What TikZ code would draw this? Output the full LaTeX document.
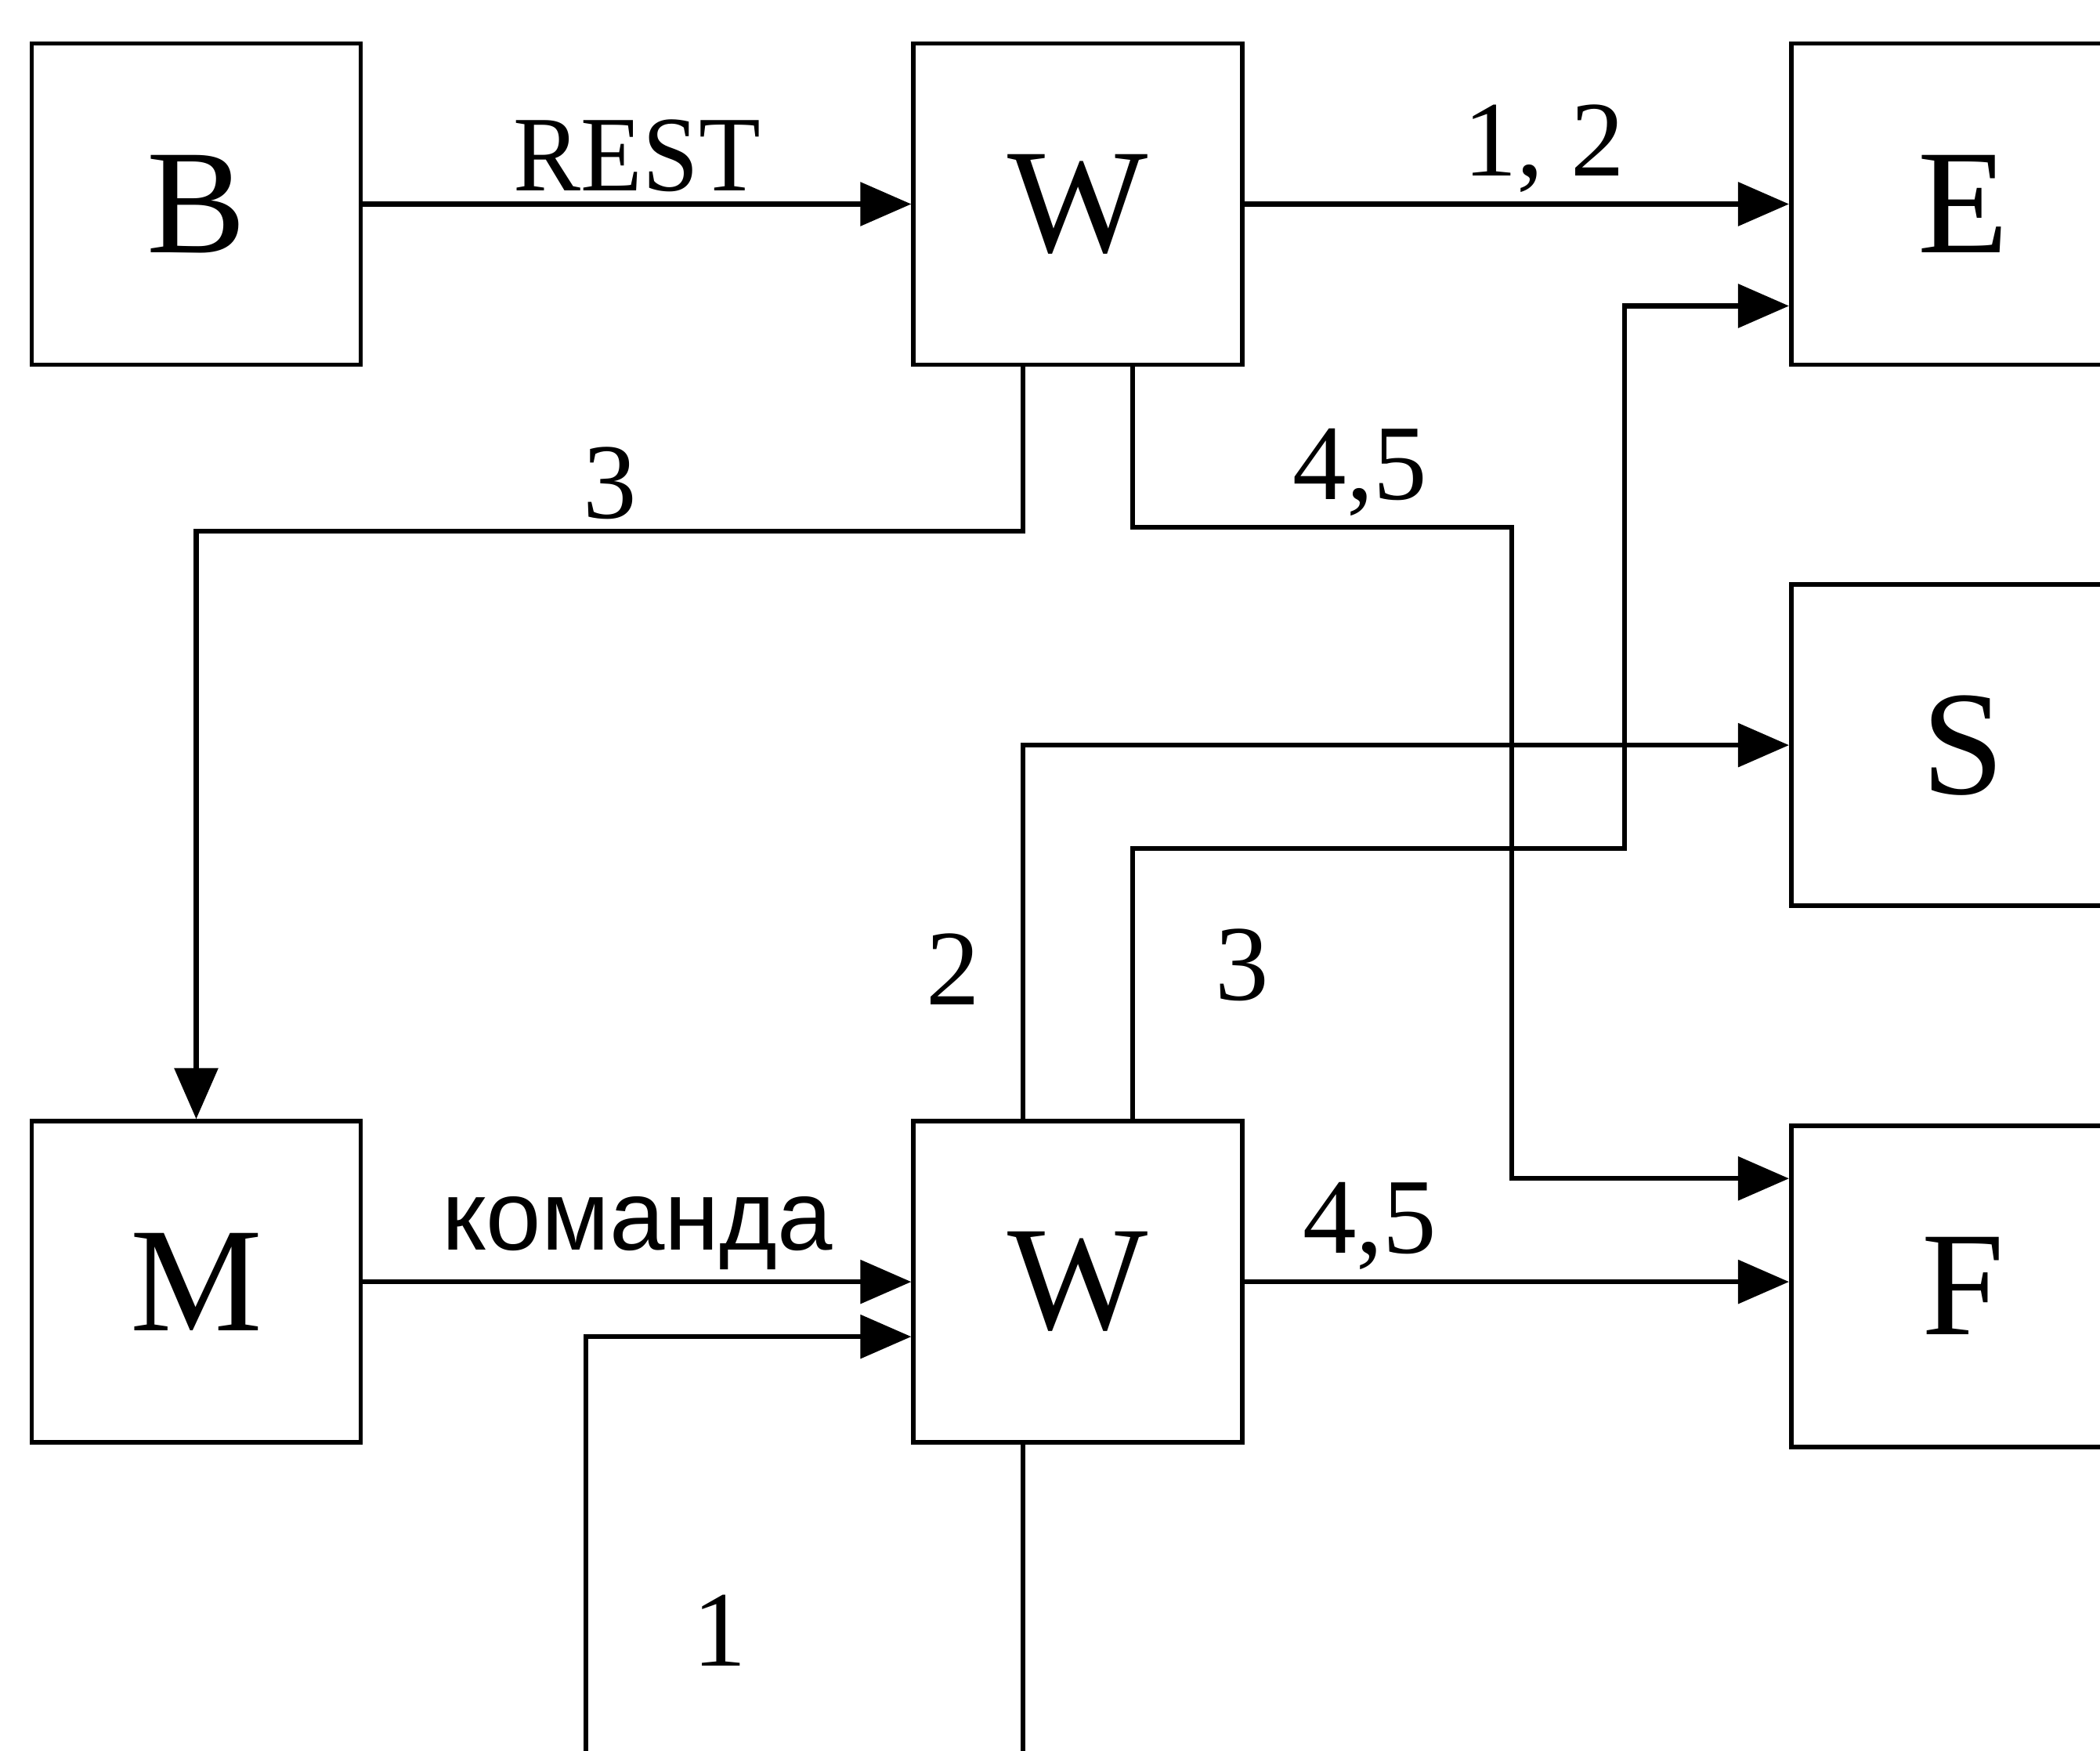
\documentclass[tikz,border=0pt]{standalone}
\usepackage{fontspec}
\setmainfont{Liberation Serif}
\newfontfamily\cyrsans{Liberation Sans}
\usetikzlibrary{positioning, arrows.meta}

\begin{document}
\begin{tikzpicture}[
        node distance=7cm,
        block/.style={rectangle, draw=black, line width=1.6pt, minimum width=4.2cm, minimum height=4.1cm, font=\fontsize{54}{60}\selectfont},
        wide/.style={block, minimum width=4.4cm},
        arrow/.style={-{Triangle[length=0.65cm, width=0.55cm]}, line width=1.8pt},
        lbl/.style={font=\fontsize{39}{44}\selectfont, inner sep=0.12cm}
    ]
        \clip (0,0) rectangle (26.81,-22.35);

        % Blocks
        \node[block] (B) at (2.505,-2.605) {B};
        \node[block, right=7cm of B] (W1) {W};
        \node[wide, right=6.95cm of W1] (E) {E};
        \node[wide, below=2.75cm of E] (S) {S};
        \node[wide, below=2.75cm of S] (F) {F};
        \node[block, below=9.6cm of B] (M) {M};
        \node[block, right=7cm of M] (W2) {W};

        % Connections
        \draw[arrow] (B) -- node[lbl, above, xscale=0.94] (lrest) {REST} (W1);
        \draw[arrow] (W1.east) -- node[lbl, above, pos=0.55] (l12) {1, 2} (W1.east -| E.west);
        \draw[arrow] ([xshift=-0.7cm]W1.south) -- ++(0,-2.1) -| node[lbl, above, pos=0.25] (l3a) {3} (M.north);
        \draw[arrow] ([xshift=0.7cm]W1.south) -- ++(0,-2.05) -| node[lbl, above, pos=0.3] (l45a) {4,5} ([xshift=-3.54cm, yshift=1.375cm]F.west) -- ([yshift=1.375cm]F.west);
        \draw[arrow] ([xshift=-0.7cm]W2.north) |- node[lbl, left=0.4cm, pos=0.2] (l2) {2} (S.west);
        \draw[arrow] ([xshift=0.7cm]W2.north) -- node[lbl, right=0.9cm, pos=0.57] (l3b) {3} ++(0,3.45) -| ([xshift=-2.1cm, yshift=-1.3cm]E.west) -- ([yshift=-1.3cm]E.west);
        \draw[arrow] (M.east) -- node[above, font=\cyrsans\fontsize{36}{40}\selectfont, inner sep=0.12cm] (lcmd) {команда} (M.east -| W2.west);
        \draw[arrow] (W2.east) -- node[lbl, above, pos=0.23] (l45b) {4,5} (W2.east -| F.west);
        \draw[arrow] ([xshift=-0.7cm]W2.south) -- ++(0,-6) -| ([xshift=-4.15cm, yshift=-0.7cm]W2.west) -- ([yshift=-0.7cm]W2.west);

        % Loop label
        \node[lbl] (l1) at ([xshift=-4.57cm, yshift=-4.45cm]W2.center) {1};
    \end{tikzpicture}
\end{document}
